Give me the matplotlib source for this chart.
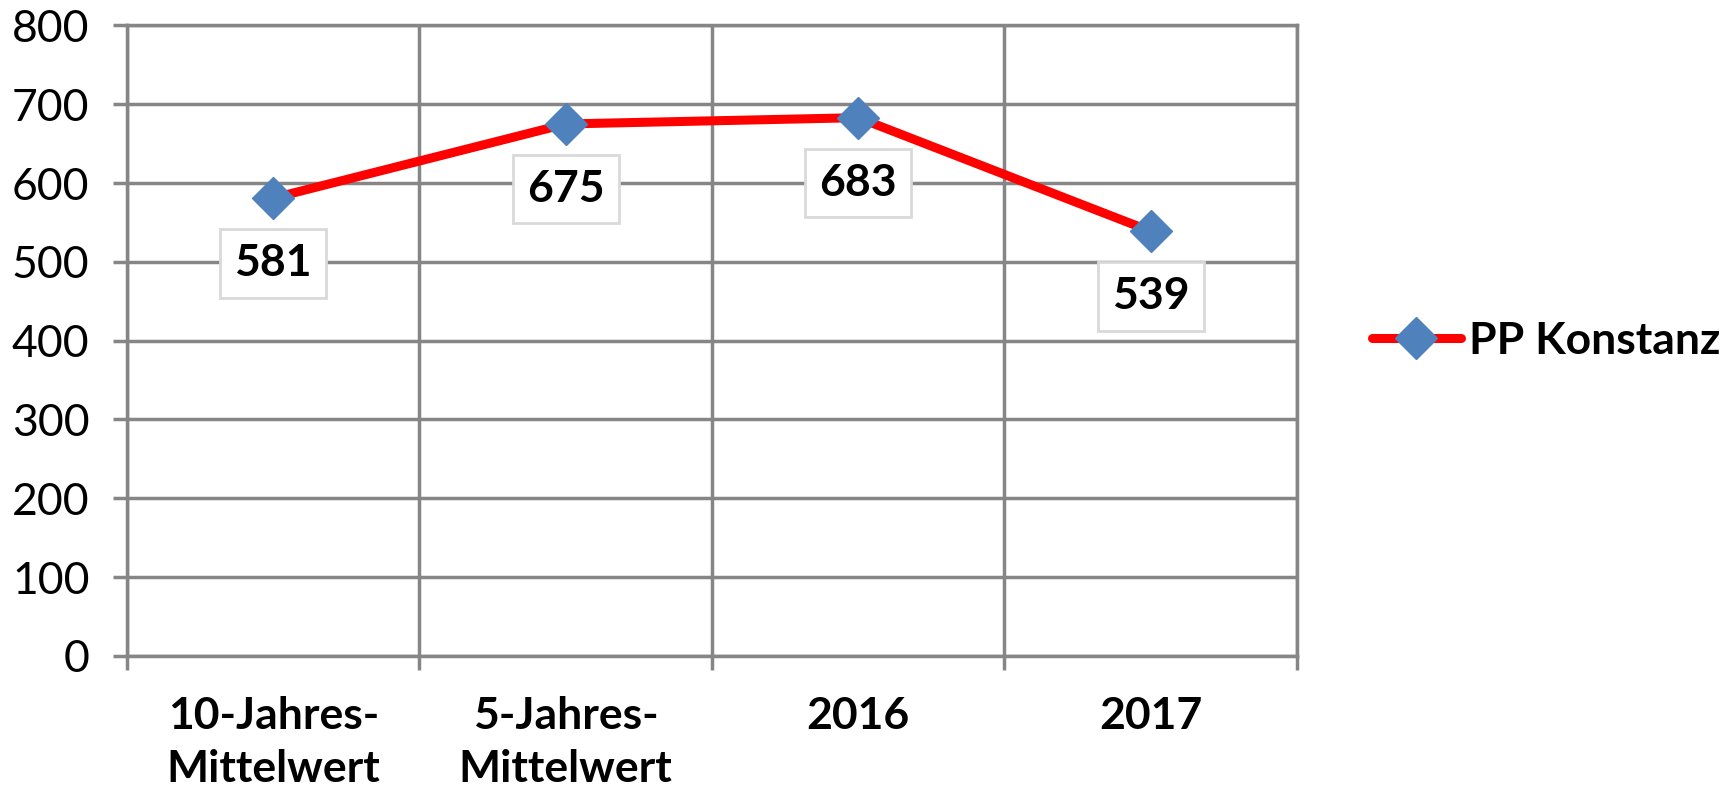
import matplotlib
matplotlib.use("Agg")
import matplotlib.pyplot as plt
import numpy as np

categories = ["10-Jahres-\nMittelwert", "5-Jahres-\nMittelwert", "2016", "2017"]
values = [581, 675, 683, 539]
series_name = "PP Konstanz"
yticks = [0, 100, 200, 300, 400, 500, 600, 700, 800]

plt.rcParams['font.family'] = ['Lato', 'DejaVu Sans']

fig = plt.figure(figsize=(17.33, 7.96), dpi=100)
ax = fig.add_axes([0.0733, 0.176, 0.675, 0.792])

grid_c = "#868686"
fs = 32
x = np.arange(len(categories))
ax.plot(x, values, color="#FF0000", lw=6.5, marker="D", markersize=21,
        markerfacecolor="#4F81BD", markeredgecolor="#4F81BD", label=series_name,
        solid_capstyle="round", zorder=5, clip_on=False)

for xi, v in zip(x, values):
    ax.annotate(str(v), (xi, v), xytext=(0, -47), textcoords="offset points",
                ha="center", va="center", fontsize=fs, fontweight="bold",
                bbox=dict(boxstyle="square,pad=0.32", fc="white", ec="#D9D9D9", lw=2),
                zorder=6)

ax.set_xlim(-0.5, len(categories) - 0.5)
ax.set_ylim(0, 800)
ax.set_yticks(yticks)
ax.set_yticklabels([str(t) for t in yticks], fontsize=fs)
ax.set_xticks(x)
ax.set_xticklabels(categories, fontsize=fs, fontweight="bold", linespacing=1.38)
ax.set_xticks(np.arange(-0.5, len(categories)), minor=True)

ax.tick_params(axis="y", which="major", length=10, width=2.5, color=grid_c, pad=17)
ax.tick_params(axis="x", which="major", length=0, pad=29)
ax.tick_params(axis="x", which="minor", length=10, width=2.5, color=grid_c)

ax.grid(axis="y", which="major", color=grid_c, lw=2.5)
ax.grid(axis="x", which="minor", color=grid_c, lw=2.5)
for s in ax.spines.values():
    s.set_color(grid_c)
    s.set_linewidth(2.5)
ax.set_axisbelow(True)

leg = ax.legend(loc="center left", bbox_to_anchor=(1.064, 0.5), frameon=False,
                prop=dict(size=fs, weight="bold"), handlelength=2.0, handletextpad=0.2,
                borderpad=0, borderaxespad=0)

fig.savefig("out.png", dpi=100)
